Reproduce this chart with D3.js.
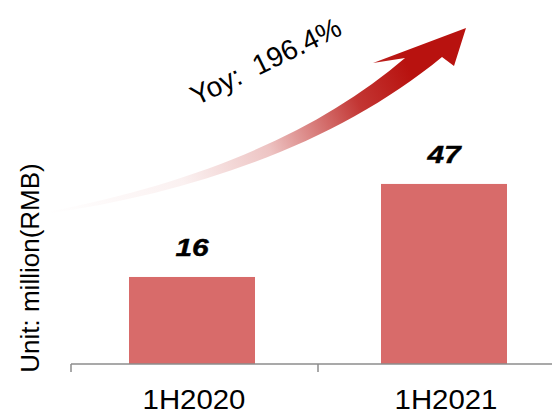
<!DOCTYPE html>
<html>
<head>
<meta charset="utf-8">
<script src="https://cdn.jsdelivr.net/npm/d3@7"></script>
<style>
  body { margin: 0; background: #fff; }
  text { font-family: "Liberation Sans", Arial, sans-serif; white-space: pre; }
</style>
</head>
<body>
<div id="chart"></div>
<script>
// chart data
var periods = ["1H2020", "1H2021"];
var revenue = [16, 47];
var yoyLabel = "Yoy:\u00a0 196.4%";
var unitLabel = "Unit: million(RMB)";

var svgWidth = 552;
var svgHeight = 412;

var svg = d3.select("#chart")
    .append("svg")
    .attr("width", svgWidth)
    .attr("height", svgHeight);

// axis baseline sits below zero (value axis is not zero based in the source)
var axisY = 364;
var axisLeft = 71;

var xScale = d3.scaleBand()
    .domain(periods)
    .range([66, 570])
    .paddingInner(0.5)
    .paddingOuter(0.25);

var yScale = d3.scaleLinear()
    .domain([-13, 108.3])
    .range([axisY, 0]);

// bars
svg.selectAll("rect.bar")
    .data(periods)
    .enter()
    .append("rect")
    .attr("class", "bar")
    .attr("x", d => xScale(d))
    .attr("y", (d, i) => yScale(revenue[i]))
    .attr("width", xScale.bandwidth())
    .attr("height", (d, i) => axisY - yScale(revenue[i]))
    .attr("fill", "#d86b6a");

// category axis: line + ticks on category boundaries
svg.append("line")
    .attr("x1", axisLeft)
    .attr("x2", svgWidth)
    .attr("y1", axisY)
    .attr("y2", axisY)
    .attr("stroke", "#8c8c8c")
    .attr("stroke-width", 1.5);

var step = xScale.step();
var boundaries = [axisLeft].concat(periods.map(d => xScale(d) + xScale.bandwidth() / 2 + step / 2));
svg.selectAll("line.tick")
    .data(boundaries)
    .enter()
    .append("line")
    .attr("class", "tick")
    .attr("x1", d => d)
    .attr("x2", d => d)
    .attr("y1", axisY)
    .attr("y2", axisY + 8)
    .attr("stroke", "#8c8c8c")
    .attr("stroke-width", 1.5);

// category labels
svg.selectAll("text.cat")
    .data(periods)
    .enter()
    .append("text")
    .attr("class", "cat")
    .attr("transform", d => `translate(${xScale(d) + xScale.bandwidth() / 2 + 2}, 409) scale(1.05, 1)`)
    .attr("text-anchor", "middle")
    .attr("font-size", 28)
    .attr("fill", "#000")
    .text(d => d);

// value labels
svg.selectAll("text.val")
    .data(periods)
    .enter()
    .append("text")
    .attr("class", "val")
    .attr("transform", (d, i) => `translate(${xScale(d) + xScale.bandwidth() / 2}, ${yScale(revenue[i]) - 21}) scale(1.3, 1)`)
    .attr("text-anchor", "middle")
    .attr("font-size", 23)
    .attr("font-weight", "bold")
    .attr("font-style", "italic")
    .attr("fill", "#000")
    .attr("stroke", "#000")
    .attr("stroke-width", 0.4)
    .text((d, i) => revenue[i]);

// unit label
svg.append("text")
    .attr("transform", "translate(39, 268) rotate(-90)")
    .attr("text-anchor", "middle")
    .attr("font-size", 26)
    .attr("fill", "#000")
    .text(unitLabel);

// growth arrow (decoration)
var defs = svg.append("defs");
var grad = defs.append("linearGradient")
    .attr("id", "arrowGrad")
    .attr("gradientUnits", "userSpaceOnUse")
    .attr("x1", 46).attr("y1", 212)
    .attr("x2", 466).attr("y2", 28);
[[0, 0], [0.3, 0.06], [0.5, 0.25], [0.72, 0.85], [0.85, 1]].forEach(function(s) {
    grad.append("stop")
        .attr("offset", s[0])
        .attr("stop-color", "#b8120f")
        .attr("stop-opacity", s[1]);
});

var p = d3.path();
p.moveTo(46, 212);
p.bezierCurveTo(200, 183, 320, 131, 405, 58);
p.lineTo(373, 63);
p.lineTo(466, 28);
p.lineTo(454, 66);
p.lineTo(442, 57);
p.bezierCurveTo(340, 141, 200, 192, 46, 214);
p.closePath();

svg.append("path")
    .attr("d", p.toString())
    .attr("fill", "url(#arrowGrad)");

// yoy label
svg.append("text")
    .attr("transform", "translate(270, 70) rotate(-26)")
    .attr("text-anchor", "middle")
    .attr("font-size", 28)
    .attr("fill", "#000")
    .text(yoyLabel);
</script>
</body>
</html>
